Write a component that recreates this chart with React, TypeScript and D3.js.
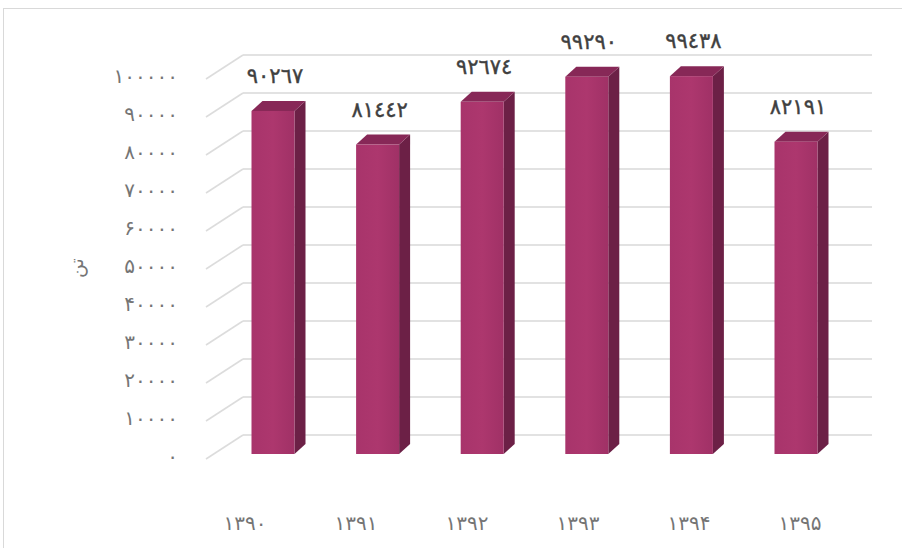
import React from "react";
import * as d3 from "d3";

const categories = ["1390", "1391", "1392", "1393", "1394", "1395"];
const values = [90267, 81442, 92674, 99290, 99438, 82191];
const yTicks = [0, 10000, 20000, 30000, 40000, 50000, 60000, 70000, 80000, 90000, 100000];
const axisTitle = "تن";

const persianDigits = "۰۱۲۳۴۵۶۷۸۹";
const arabicDigits = "۰۱۲۳٤۵٦۷۸۹";
const toDigits = (s: string, map: string) => s.replace(/[0-9]/g, (c) => map[+c]);

const W = 902;
const H = 548;
const DX = 11;
const DY = 10;
const WALL_DX = -37;
const WALL_DY = 24;
const FRONT_SHIFT = 19;
const BAR_W = 43;

export default function App() {
  const yBack = d3.scaleLinear().domain([0, 100000]).range([435, 55]);
  const yFront = (v: number) => yBack(v) + FRONT_SHIFT;
  const xBar = d3.scalePoint<string>().domain(categories).range([273, 796]);
  const xLabel = d3.scalePoint<string>().domain(categories).range([245, 800]);
  const wallX0 = 243;
  const wallX1 = 872;

  return (
    <svg width={W} height={H} style={{ position: "absolute", left: 0, top: 0, background: "#fff" }}>
      <rect x={3.5} y={8.5} width={W + 20} height={H + 20} fill="#fff" stroke="#d9d9d9" strokeWidth={1} />
      <defs>
        <linearGradient id="front" x1="0" x2="1" y1="0" y2="0">
          <stop offset="0" stopColor="#a8346b" />
          <stop offset="0.5" stopColor="#ad376e" />
          <stop offset="1" stopColor="#a03166" />
        </linearGradient>
      </defs>
      {yTicks.map((t) => (
        <g key={t}>
          <line x1={wallX0} x2={wallX1} y1={yBack(t)} y2={yBack(t)} stroke="#d9d9d9" strokeWidth={1.6} />
          <line x1={wallX0} x2={wallX0 + WALL_DX} y1={yBack(t)} y2={yBack(t) + WALL_DY} stroke="#dcdcdc" strokeWidth={1.6} />
          <text
            x={178}
            y={yBack(t) + 21}
            textAnchor="end"
            dominantBaseline="central"
            fontFamily="DejaVu Sans"
            fontSize={20}
            fill="#757575"
          >
            {toDigits(String(t), persianDigits)}
          </text>
        </g>
      ))}
      {categories.map((c, i) => {
        const cx = xBar(c)!;
        const x0 = cx - BAR_W / 2;
        const x1 = cx + BAR_W / 2;
        const yt = yFront(values[i]);
        const yb = yFront(0);
        return (
          <g key={c}>
            <polygon
              points={`${x1},${yt} ${x1 + DX},${yt - DY} ${x1 + DX},${yb - DY} ${x1},${yb}`}
              fill="#6c2046"
            />
            <polygon
              points={`${x0},${yt} ${x0 + DX},${yt - DY} ${x1 + DX},${yt - DY} ${x1},${yt}`}
              fill="#872857"
            />
            <rect x={x0} y={yt} width={BAR_W} height={yb - yt} fill="url(#front)" />
            <text
              x={cx + 2}
              y={yt - 35}
              textAnchor="middle"
              dominantBaseline="central"
              fontFamily="DejaVu Sans"
              fontSize={21}
              fill="#404040"
              stroke="#404040"
              strokeWidth={0.4}
            >
              {toDigits(String(values[i]), arabicDigits)}
            </text>
          </g>
        );
      })}
      {categories.map((c) => (
        <text
          key={c}
          x={xLabel(c)!}
          y={523}
          textAnchor="middle"
          dominantBaseline="central"
          fontFamily="DejaVu Sans"
          fontSize={20}
          fill="#757575"
        >
          {toDigits(c, persianDigits)}
        </text>
      ))}
      <text
        transform={`translate(76,268) rotate(-90)`}
        textAnchor="middle"
        dominantBaseline="central"
        fontFamily="DejaVu Sans"
        fontSize={19}
        fill="#757575"
      >
        {axisTitle}
      </text>
    </svg>
  );
}
